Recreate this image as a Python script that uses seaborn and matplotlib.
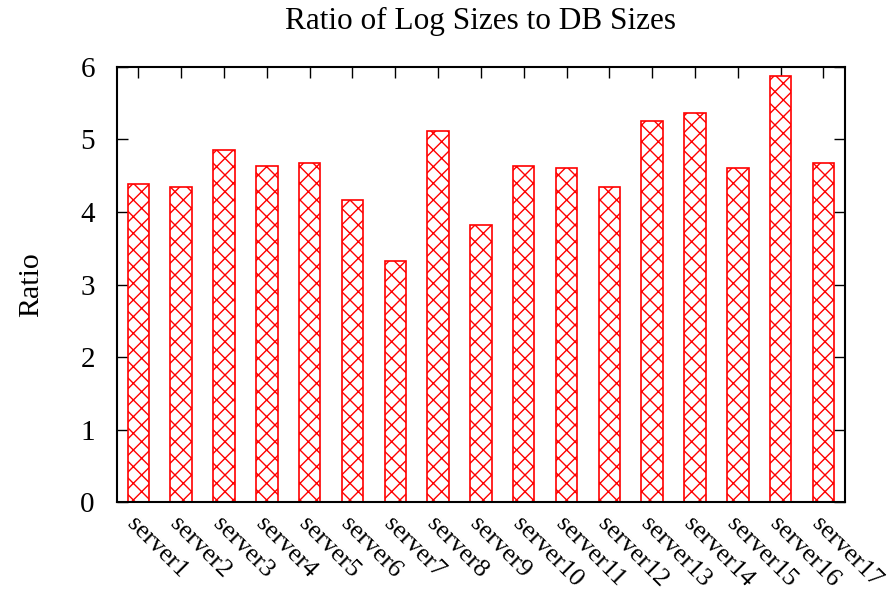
import pandas as pd
import matplotlib
matplotlib.use('Agg')
import matplotlib.pyplot as plt
import seaborn as sns

# Data
servers = ['server' + str(i) for i in range(1, 18)]
ratios = [4.38, 4.35, 4.85, 4.64, 4.67, 4.16, 3.32, 5.12, 3.82,
          4.63, 4.60, 4.35, 5.25, 5.37, 4.60, 5.87, 4.67]
y_ticks = [0, 1, 2, 3, 4, 5, 6]

df = pd.DataFrame({'Server': servers, 'Ratio': ratios})

sns.set_style('white')
plt.rcParams['font.family'] = ['Liberation Serif', 'DejaVu Serif']
plt.rcParams['text.color'] = 'black'
plt.rcParams['axes.labelcolor'] = 'black'
plt.rcParams['xtick.color'] = 'black'
plt.rcParams['ytick.color'] = 'black'
plt.rcParams['hatch.color'] = 'red'
plt.rcParams['hatch.linewidth'] = 1.0

fig = plt.figure(figsize=(8.95, 5.96), dpi=100)
ax = fig.add_axes([0.1307, 0.1577, 0.8133, 0.7299])

sns.barplot(data=df, x='Server', y='Ratio', color='white', width=0.5,
            edgecolor='red', linewidth=1.2, ax=ax)
for p in ax.patches:
    p.set_hatch('xx')
    p.set_edgecolor('red')

ax.set_xlim(-0.5, len(servers) - 0.5)
ax.set_ylim(0, 6)
ax.set_yticks(y_ticks)
ax.set_yticklabels([str(t) for t in y_ticks], fontsize=21)
ax.set_xticks(range(len(servers)))
ax.set_xticklabels(servers, fontsize=18.5, rotation=-45, ha='left', va='top',
                   rotation_mode='anchor')

ax.tick_params(axis='both', direction='in', length=8, width=1.0, color='black',
               top=True, right=True, bottom=True, left=True)
ax.tick_params(axis='y', pad=16)
ax.tick_params(axis='x', pad=8)

for s in ax.spines.values():
    s.set_visible(True)
    s.set_color('black')
    s.set_linewidth(1.5)

ax.set_xlabel('')
ax.set_ylabel('Ratio', fontsize=21.5, labelpad=26)
ax.set_title('Ratio of Log Sizes to DB Sizes', fontsize=22.5, pad=27)

fig.savefig('out.png', dpi=100)
